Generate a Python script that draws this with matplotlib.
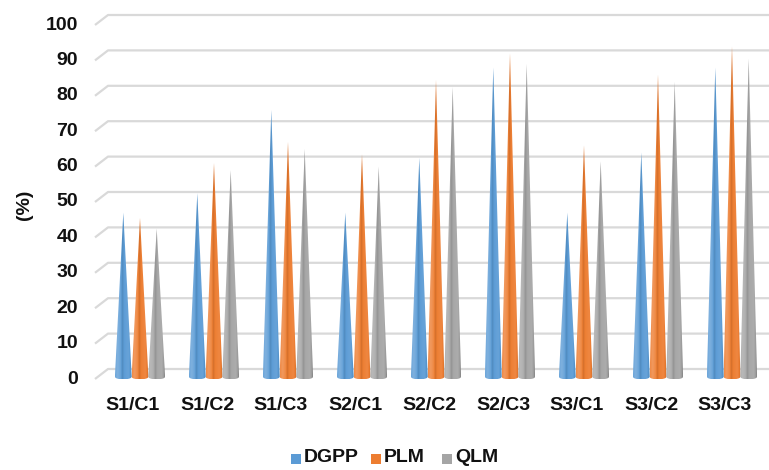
import numpy as np
import matplotlib
matplotlib.use('Agg')
import matplotlib.pyplot as plt
from matplotlib.colors import to_rgb
from matplotlib.patches import Polygon, Rectangle

categories = ['S1/C1', 'S1/C2', 'S1/C3', 'S2/C1', 'S2/C2', 'S2/C3', 'S3/C1', 'S3/C2', 'S3/C3']
series_names = ['DGPP', 'PLM', 'QLM']
dgpp = [47, 52.5, 76, 47, 62.5, 88, 47, 64, 88]
plm = [45.5, 61, 67, 63.5, 84.5, 92, 66, 86, 94]
qlm = [42.5, 59, 65, 60, 82.5, 89, 61.5, 84, 90.5]
colors = ['#5B9BD5', '#ED7D31', '#A5A5A5']
yticks = list(range(0, 101, 10))
ylabel = '(%)'

FONT = ['Liberation Sans', 'DejaVu Sans']

W, H = 769, 470
fig = plt.figure(figsize=(W / 100, H / 100), dpi=100)
left_px, right_px = 95, 769
y0_px, y100_px = 379, 25
ax = fig.add_axes([left_px / W, 1 - y0_px / H, (right_px - left_px) / W, (y0_px - y100_px) / H])
ppu_x = 74.0
ppu_y = (y0_px - y100_px) / 100.0
x0_px = 140
xmin = -(x0_px - left_px) / ppu_x
xmax = (right_px - x0_px) / ppu_x
ax.axis('off')

# 3D-like gridlines (back wall with slanted floor edge)
dx_back = 13 / ppu_x
dy_back = 10 / ppu_y
for v in yticks:
    ax.plot([xmin, xmin + dx_back, xmax], [v, v + dy_back, v + dy_back],
            color='#D9D9D9', lw=1.6, clip_on=False, zorder=1, solid_capstyle='butt')
    ax.text(xmin - 17 / ppu_x, v, str(v), ha='right', va='center',
            fontsize=14, fontweight='bold', family=FONT, color='#111111')

# cones
offsets = [-16.7 / ppu_x, 0.0, 16.7 / ppu_x]
hw = 8.4 / ppu_x
prof_u = [0.0, 0.15, 0.33, 0.43, 0.55, 0.8, 0.93, 1.0]
prof_f = [0.10, 0.22, 0.10, -0.12, 0.02, 0.08, -0.05, -0.22]


def shade(c, f):
    c = np.array(to_rgb(c))
    if f >= 0:
        return c + (1 - c) * f
    return c * (1 + f)


ugrid = np.linspace(0, 1, 96)
for s, vals in enumerate([dgpp, plm, qlm]):
    grad = np.array([shade(colors[s], np.interp(u, prof_u, prof_f)) for u in ugrid])[None, :, :]
    for i, v in enumerate(vals):
        xc = i + offsets[s]
        us = np.linspace(0, 1, 25)
        xs = xc - hw + 2 * hw * us
        ys = 0.6 - 0.7 * np.sqrt(np.clip(1 - (2 * us - 1) ** 2, 0, 1))
        verts = [(xc, v)] + list(zip(xs, ys))
        tri = Polygon(verts, closed=True, facecolor='none', edgecolor='none')
        ax.add_patch(tri)
        im = ax.imshow(grad, extent=[xc - hw, xc + hw, -0.2, v], aspect='auto',
                       interpolation='bilinear', origin='lower', zorder=3 + s)
        im.set_clip_path(tri)

ax.set_xlim(xmin, xmax)
ax.set_ylim(0, 100)

# category labels
for i, c in enumerate(categories):
    ax.text(i - 7 / ppu_x, -26 / ppu_y, c, ha='center', va='center',
            fontsize=14, fontweight='bold', family=FONT, color='#111111')

# y label
fig.text(25 / W, 1 - 205 / H, ylabel, rotation=90, ha='center', va='center',
         fontsize=14, fontweight='bold', family=FONT, color='#111111')

# legend
leg_x = [291, 371, 442]
for s, name in enumerate(series_names):
    fig.patches.append(Rectangle((leg_x[s] / W, 1 - 464 / H), 10 / W, 10 / H,
                                 transform=fig.transFigure, facecolor=colors[s],
                                 edgecolor='none'))
    fig.text((leg_x[s] + 13) / W, 1 - 458 / H, name, ha='left', va='center',
             fontsize=14, fontweight='bold', family=FONT, color='#111111')

fig.savefig('out.png', dpi=100, facecolor='white')
